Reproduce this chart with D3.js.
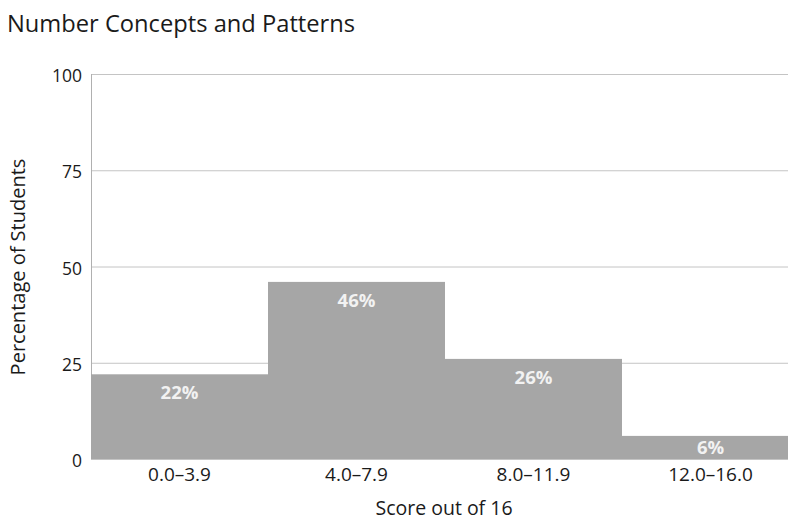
<!DOCTYPE html>
<html>
<head>
<meta charset="utf-8">
<script src="https://cdn.jsdelivr.net/npm/d3@7"></script>
<style>
  html, body { margin: 0; padding: 0; background: #fff; }
  svg { display: block; }
</style>
</head>
<body>
<svg id="chart" width="788" height="521"></svg>
<script>
// Score bands and share of students in each
const categories = ["0.0–3.9", "4.0–7.9", "8.0–11.9", "12.0–16.0"];
const percentages = [22, 46, 26, 6];
const yTicks = [0, 25, 50, 75, 100];

const title = "Number Concepts and Patterns";
const xTitle = "Score out of 16";
const yTitle = "Percentage of Students";

const svg = d3.select("#chart");
const fontFamily = "'Open Sans', 'Noto Sans', sans-serif";
const textColor = "#1a1a1a";

const plot = { left: 91, right: 799, top: 74, bottom: 459 };

const x = d3.scaleBand()
  .domain(categories)
  .range([plot.left, plot.right])
  .padding(0);

const y = d3.scaleLinear()
  .domain([0, 100])
  .range([plot.bottom, plot.top]);

// Horizontal gridlines
svg.append("g")
  .selectAll("line")
  .data(yTicks)
  .join("line")
  .attr("x1", plot.left)
  .attr("x2", plot.right)
  .attr("y1", d => y(d) + 0.5)
  .attr("y2", d => y(d) + 0.5)
  .attr("stroke", "#c4c4c4")
  .attr("stroke-width", 1);

// Left axis line
svg.append("line")
  .attr("x1", plot.left + 0.5)
  .attr("x2", plot.left + 0.5)
  .attr("y1", plot.top)
  .attr("y2", plot.bottom)
  .attr("stroke", "#b0b0b0");

// Bars
svg.append("g")
  .selectAll("rect")
  .data(percentages)
  .join("rect")
  .attr("x", (d, i) => x(categories[i]))
  .attr("width", x.bandwidth())
  .attr("y", d => y(d))
  .attr("height", d => y(0) - y(d))
  .attr("fill", "#a6a6a6");

// Value labels inside bars
svg.append("g")
  .selectAll("text")
  .data(percentages)
  .join("text")
  .attr("x", (d, i) => x(categories[i]) + x.bandwidth() / 2)
  .attr("y", d => Math.min(y(d) + 25, y(0) - 5))
  .attr("text-anchor", "middle")
  .attr("font-family", fontFamily)
  .attr("font-weight", "bold")
  .attr("font-size", 18.5)
  .attr("fill", "#f2f2f2")
  .text(d => d + "%");

// Y axis tick labels
const yAxis = d3.axisLeft(y).tickValues(yTicks).tickSize(0).tickPadding(9);
svg.append("g")
  .attr("transform", `translate(${plot.left},0)`)
  .call(yAxis)
  .call(g => g.select(".domain").remove())
  .call(g => g.selectAll("text")
    .attr("dy", "0.44em")
    .attr("font-family", fontFamily)
    .attr("font-size", 17.5)
    .attr("fill", textColor));

// X axis tick labels
const xAxis = d3.axisBottom(x).tickSize(0).tickPadding(0);
svg.append("g")
  .attr("transform", `translate(0,${plot.bottom})`)
  .call(xAxis)
  .call(g => g.select(".domain").remove())
  .call(g => g.selectAll("text")
    .attr("y", 22)
    .attr("dy", 0)
    .attr("font-family", fontFamily)
    .attr("font-size", 19)
    .attr("fill", textColor));

// Title
svg.append("text")
  .attr("x", 7)
  .attr("y", 32)
  .attr("font-family", fontFamily)
  .attr("font-size", 23.7)
  .attr("fill", textColor)
  .text(title);

// Axis titles
svg.append("text")
  .attr("x", 444)
  .attr("y", 515)
  .attr("text-anchor", "middle")
  .attr("font-family", fontFamily)
  .attr("font-size", 19.5)
  .attr("fill", textColor)
  .text(xTitle);

svg.append("text")
  .attr("transform", "translate(25,267) rotate(-90)")
  .attr("text-anchor", "middle")
  .attr("font-family", fontFamily)
  .attr("font-size", 20)
  .attr("fill", textColor)
  .text(yTitle);
</script>
</body>
</html>
